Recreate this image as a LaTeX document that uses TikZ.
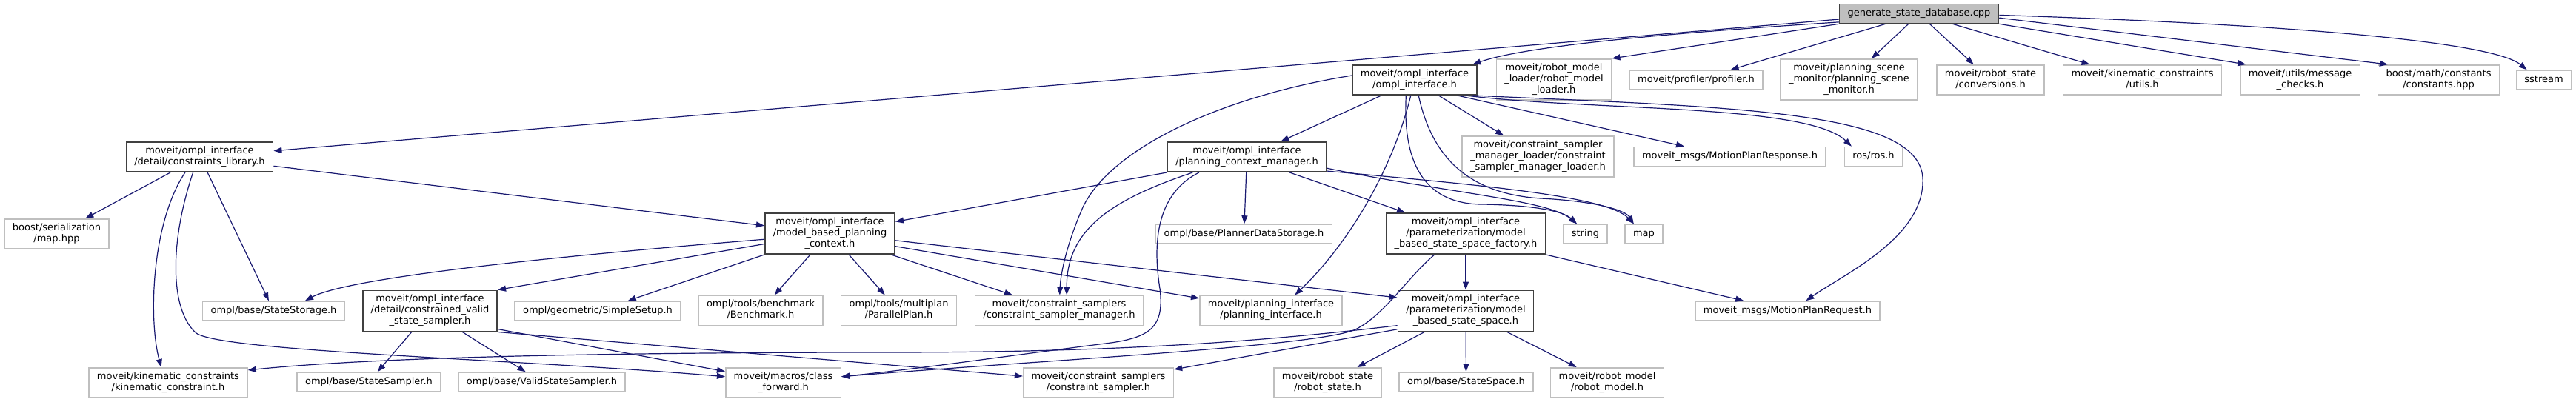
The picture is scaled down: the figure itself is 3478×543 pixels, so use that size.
\documentclass[tikz,border=0pt]{standalone}
\usepackage{fontspec}
\newfontfamily\doxfont{DejaVu Sans}
\usetikzlibrary{positioning, arrows.meta}
\definecolor{Strelica}{HTML}{191970}
\definecolor{Tamna}{HTML}{404040}
\definecolor{Siva}{HTML}{BFBFBF}
\tikzset{
  kutija/.style  = {rectangle, line width=1.6pt, align=center,
                    font=\doxfont\fontsize{13pt}{15pt}\selectfont,
                    inner xsep=11pt, inner ysep=5.5pt,
                    execute at begin node=\strut, execute at end node=\strut},
  spoljna/.style = {kutija, draw=Siva, fill=white},
  nasa/.style    = {kutija, draw=Tamna, fill=white},
  koren/.style   = {kutija, draw=Tamna, fill=Siva},
  tok/.style     = {-{Triangle[length=11pt,width=8pt]}, draw=Strelica, line width=1.2pt},
}

\begin{document}
\begin{tikzpicture}[x=1pt, y=-1pt]
  \useasboundingbox (0,0) rectangle (3478,543);

  \node[koren]   (gsd)    at (2591,18.5)   {generate\_state\_database.cpp};

  \node[nasa]    (oi)     at (1910,108)    {moveit/ompl\_interface\\/ompl\_interface.h};
  \node[spoljna] (rml)    at (2098,107.5)  {moveit/robot\_model\\\_loader/robot\_model\\\_loader.h};
  \node[spoljna] (prof)   at (2290,108)    {moveit/profiler/profiler.h};
  \node[spoljna] (psm)    at (2496.5,107.5){moveit/planning\_scene\\\_monitor/planning\_scene\\\_monitor.h};
  \node[spoljna] (conv)   at (2687.5,108)  {moveit/robot\_state\\/conversions.h};
  \node[spoljna] (kcu)    at (2892.5,108)  {moveit/kinematic\_constraints\\/utils.h};
  \node[spoljna] (msgchk) at (3105.5,108)  {moveit/utils/message\\\_checks.h};
  \node[spoljna] (bconst) at (3292.5,108)  {boost/math/constants\\/constants.hpp};
  \node[spoljna] (sstr)   at (3434.5,108)  {sstream};

  \node[nasa]    (clib)   at (269.5,212)   {moveit/ompl\_interface\\/detail/constraints\_library.h};
  \node[nasa]    (pcm)    at (1683.5,212)  {moveit/ompl\_interface\\/planning\_context\_manager.h};
  \node[spoljna] (csml)   at (2076.5,211.5){moveit/constraint\_sampler\\\_manager\_loader/constraint\\\_sampler\_manager\_loader.h};
  \node[spoljna] (mpresp) at (2335.5,211.5){moveit\_msgs/MotionPlanResponse.h};
  \node[spoljna] (ros)    at (2529.5,211.5){ros/ros.h};

  \node[spoljna] (bser)   at (76.5,316)    {boost/serialization\\/map.hpp};
  \node[nasa]    (mbpc)   at (1120.5,315.5){moveit/ompl\_interface\\/model\_based\_planning\\\_context.h};
  \node[spoljna] (pds)    at (1679.5,316)  {ompl/base/PlannerDataStorage.h};
  \node[nasa]    (mbssf)  at (1979,315.5)  {moveit/ompl\_interface\\/parameterization/model\\\_based\_state\_space\_factory.h};
  \node[spoljna] (str)    at (2140.5,316)  {string};
  \node[spoljna] (map)    at (2219.5,316)  {map};

  \node[spoljna] (sstor)  at (369.5,420)   {ompl/base/StateStorage.h};
  \node[nasa]    (cvss)   at (580.5,420)   {moveit/ompl\_interface\\/detail/constrained\_valid\\\_state\_sampler.h};
  \node[spoljna] (simple) at (807,420)     {ompl/geometric/SimpleSetup.h};
  \node[spoljna] (bench)  at (1027,419.5)  {ompl/tools/benchmark\\/Benchmark.h};
  \node[spoljna] (ppl)    at (1213.5,419.5){ompl/tools/multiplan\\/ParallelPlan.h};
  \node[spoljna] (csm)    at (1430,419.5)  {moveit/constraint\_samplers\\/constraint\_sampler\_manager.h};
  \node[spoljna] (pif)    at (1716,419.5)  {moveit/planning\_interface\\/planning\_interface.h};
  \node[nasa]    (mbss)   at (1979,420)    {moveit/ompl\_interface\\/parameterization/model\\\_based\_state\_space.h};
  \node[spoljna] (mpreq)  at (2413.5,420)  {moveit\_msgs/MotionPlanRequest.h};

  \node[spoljna] (kc)     at (227,517)     {moveit/kinematic\_constraints\\/kinematic\_constraint.h};
  \node[spoljna] (ssamp)  at (498,516)     {ompl/base/StateSampler.h};
  \node[spoljna] (vss)    at (731.5,516)   {ompl/base/ValidStateSampler.h};
  \node[spoljna] (cfwd)   at (1057.5,517)  {moveit/macros/class\\\_forward.h};
  \node[spoljna] (csamp)  at (1483,517)    {moveit/constraint\_samplers\\/constraint\_sampler.h};
  \node[spoljna] (rstate) at (1792.5,517)  {moveit/robot\_state\\/robot\_state.h};
  \node[spoljna] (sspace) at (1979.5,516)  {ompl/base/StateSpace.h};
  \node[spoljna] (rmodel) at (2170,517)    {moveit/robot\_model\\/robot\_model.h};

  \draw[tok] (gsd.184) -- (clib);
  \draw[tok] (gsd.186) .. controls (2250,45) and (2060,62) .. (oi.15);
  \draw[tok] (gsd.south west) -- (rml.north east);
  \draw[tok] (gsd.197) -- (prof);
  \draw[tok] (gsd.224) -- (psm);
  \draw[tok] (gsd.316) -- (conv);
  \draw[tok] (gsd.343) -- (kcu);
  \draw[tok] (gsd.south east) -- (msgchk.164);
  \draw[tok] (gsd.357) -- (bconst.163);
  \draw[tok] (gsd.359) .. controls (3150,35) and (3370,60) .. (sstr.149);

  \draw[tok] (oi.205) -- (pcm);
  \draw[tok] (oi.327) -- (csml);
  \draw[tok] (oi.340) -- (mpresp);
  \draw[tok] (oi.343) .. controls (2150,150) and (2440,140) .. (ros.155);
  \draw[tok] (oi.345) .. controls (2350,145) and (2590,150) .. (2596,240)
                      .. controls (2600,320) and (2490,370) .. (mpreq.29);
  \draw[tok] (oi.241) .. controls (1893,230) and (1930,275) .. (2000,276)
                      .. controls (2070,277) and (2110,285) .. (str.130);
  \draw[tok] (oi.284) .. controls (1935,220) and (1990,262) .. (2080,268)
                      .. controls (2160,272) and (2195,285) .. (map.135);
  \draw[tok] (oi.176) .. controls (1650,130) and (1500,200) .. (1462,280)
                      .. controls (1440,330) and (1432,370) .. (csm.88);
  \draw[tok] (oi.256) .. controls (1880,230) and (1820,330) .. (pif.33);

  \draw[tok] (pcm.south west) -- (mbpc);
  \draw[tok] (pcm.196) .. controls (1500,270) and (1440,310) .. (csm.64);
  \draw[tok] (pcm.198) .. controls (1565,260) and (1555,320) .. (1566,390)
                       .. controls (1572,440) and (1555,455) .. (1500,463)
                       .. controls (1350,482) and (1250,497) .. (cfwd.6);
  \draw[tok] (pcm) -- (pds);
  \draw[tok] (pcm.340) -- (mbssf);
  \draw[tok] (pcm.352) .. controls (1950,260) and (2090,270) .. (str.130);
  \draw[tok] (pcm.350) .. controls (2000,250) and (2170,265) .. (map.135);

  \draw[tok] (clib.208) -- (bser);
  \draw[tok] (clib.227) .. controls (205,300) and (200,430) .. (kc.114);
  \draw[tok] (clib.247) .. controls (228,330) and (230,420) .. (265,450)
                        .. controls (300,475) and (700,485) .. (cfwd.174);
  \draw[tok] (clib.297) -- (sstor);
  \draw[tok] (clib.353) -- (mbpc);

  \draw[tok] (mbpc.185) .. controls (850,338) and (480,370) .. (sstor.18);
  \draw[tok] (mbpc.189) -- (cvss.north east);
  \draw[tok] (mbpc.south west) -- (simple);
  \draw[tok] (mbpc.227) -- (bench);
  \draw[tok] (mbpc.312) -- (ppl);
  \draw[tok] (mbpc.341) -- (csm);
  \draw[tok] (mbpc.349) -- (pif);
  \draw[tok] (mbpc.354) -- (mbss.169);

  \draw[tok] (cvss.229) -- (ssamp);
  \draw[tok] (cvss.327) -- (vss);
  \draw[tok] (cvss.345) -- (cfwd.169);
  \draw[tok] (cvss.south east) -- (csamp.175);

  \draw[tok] (mbssf) -- (mbss);
  \draw[tok] (mbssf.south east) -- (mpreq);
  \draw[tok] (mbssf.214) .. controls (1900,375) and (1870,425) .. (1830,445)
                         .. controls (1780,468) and (1400,487) .. (cfwd.6);

  \draw[tok] (mbss.207) -- (rstate);
  \draw[tok] (mbss) -- (sspace);
  \draw[tok] (mbss.333) -- (rmodel);
  \draw[tok] (mbss.192) .. controls (1700,462) and (1500,476) .. (1200,476)
                        .. controls (800,476) and (500,483) .. (kc.9);
  \draw[tok] (mbss.195) -- (csamp.10);
\end{tikzpicture}
\end{document}
